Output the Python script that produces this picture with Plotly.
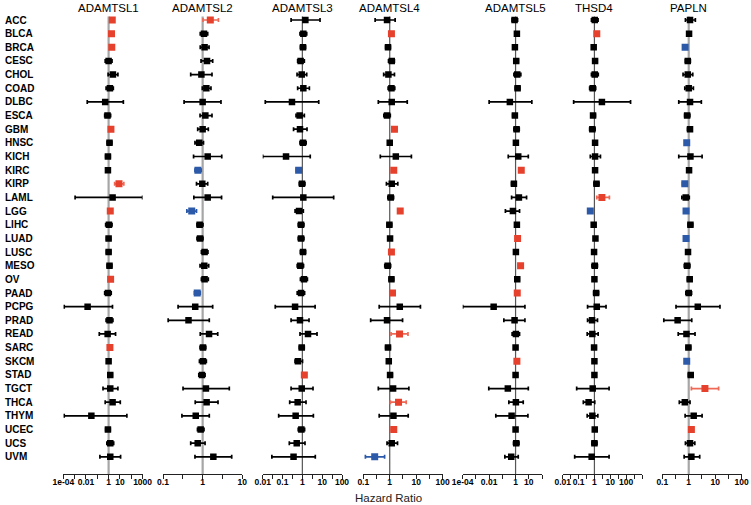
import plotly.graph_objects as go
import numpy as np

cancers = ["ACC", "BLCA", "BRCA", "CESC", "CHOL", "COAD", "DLBC", "ESCA", "GBM", "HNSC",
           "KICH", "KIRC", "KIRP", "LAML", "LGG", "LIHC", "LUAD", "LUSC", "MESO", "OV",
           "PAAD", "PCPG", "PRAD", "READ", "SARC", "SKCM", "STAD", "TGCT", "THCA", "THYM",
           "UCEC", "UCS", "UVM"]

genes = ["ADAMTSL1", "ADAMTSL2", "ADAMTSL3", "ADAMTSL4", "ADAMTSL5", "THSD4", "PAPLN"]

adamtsl1_hr = [2.1, 1.8, 1.9, 1.0, 2.4, 1.3, 0.5, 0.8, 1.6, 1.2, 0.87, 0.87, 8.2, 2.25, 1.4, 1.07, 1.0,
               1.0, 1.2, 1.5, 0.87, 0.014, 1.2, 0.82, 1.3, 1.0, 1.4, 1.4, 2.25, 0.03, 0.87, 1.4, 1.4]
adamtsl1_lo = [1.5, 1.3, 1.4, 0.5, 0.9, 0.6, 0.013, 0.45, 1.2, 0.75, 0.55, 0.6, 3.4, 0.0011, 1.1, 0.55, 0.65,
               0.65, 0.75, 1.15, 0.45, 0.00012, 0.6, 0.15, 1.05, 0.7, 0.9, 0.32, 0.5, 0.00012, 0.55, 0.7, 0.17]
adamtsl1_hi = [2.9, 2.5, 2.6, 2.0, 6.6, 2.6, 20, 1.5, 2.2, 1.9, 1.4, 1.3, 22, 1000, 1.8, 2.0, 1.5,
               1.5, 1.9, 2.0, 1.7, 2.2, 2.4, 4.1, 1.7, 1.4, 2.1, 6.6, 10.7, 41, 1.4, 2.8, 11.4]

adamtsl2_hr = [1.56, 1.08, 1.12, 1.29, 0.93, 1.24, 1.0, 1.17, 1.0, 0.82, 1.34, 0.76, 0.98, 1.34, 0.53, 0.84, 0.86,
               1.12, 1.1, 1.12, 0.73, 0.65, 0.44, 1.45, 1.02, 1.02, 0.96, 1.21, 1.26, 0.67, 0.89, 0.75, 1.86]
adamtsl2_lo = [1.02, 0.87, 0.87, 0.91, 0.5, 0.98, 0.34, 0.86, 0.75, 0.64, 0.59, 0.64, 0.7, 0.6, 0.4, 0.72, 0.72,
               0.93, 0.86, 0.93, 0.62, 0.24, 0.135, 0.87, 0.86, 0.83, 0.8, 0.32, 0.65, 0.3, 0.74, 0.5, 0.64]
adamtsl2_hi = [2.5, 1.34, 1.45, 1.79, 1.72, 1.62, 2.9, 1.72, 1.39, 1.05, 3.03, 0.92, 1.34, 3.0, 0.7, 1.02, 1.02,
               1.36, 1.42, 1.39, 0.87, 1.79, 1.47, 2.4, 1.2, 1.24, 1.15, 4.7, 2.44, 1.47, 1.08, 1.15, 5.4]

adamtsl3_hr = [1.42, 1.12, 1.08, 0.82, 0.93, 1.12, 0.3, 0.73, 0.76, 1.08, 0.15, 0.65, 0.96, 1.12, 0.68, 0.86, 0.86,
               1.08, 0.79, 1.21, 0.86, 0.43, 0.76, 1.93, 0.93, 0.6, 1.26, 0.93, 0.58, 0.46, 0.89, 0.52, 0.36]
adamtsl3_lo = [0.27, 0.76, 0.8, 0.58, 0.54, 0.58, 0.0135, 0.48, 0.36, 0.76, 0.01, 0.5, 0.7, 0.032, 0.43, 0.62, 0.62,
               0.8, 0.55, 0.8, 0.55, 0.043, 0.27, 0.76, 0.7, 0.43, 1.02, 0.27, 0.23, 0.064, 0.62, 0.22, 0.029]
adamtsl3_hi = [7.8, 1.66, 1.45, 1.26, 1.66, 2.26, 6.7, 1.26, 1.72, 1.55, 2.5, 0.85, 1.35, 38, 1.12, 1.2, 1.2,
               1.45, 1.15, 1.8, 1.3, 4.4, 2.17, 5.5, 1.25, 1.02, 1.55, 3.45, 1.53, 3.6, 1.3, 1.36, 4.5]

adamtsl4_hr = [0.79, 1.16, 0.86, 1.19, 0.89, 1.16, 1.19, 0.79, 1.51, 1.0, 1.7, 1.42, 1.19, 1.09, 2.49, 0.97, 1.03,
               1.16, 0.84, 1.16, 1.27, 2.4, 0.79, 2.35, 0.86, 0.92, 1.03, 1.34, 2.15, 1.38, 1.42, 1.19, 0.27]
adamtsl4_lo = [0.28, 1.02, 0.7, 0.9, 0.59, 0.87, 0.37, 0.6, 1.2, 0.85, 0.44, 1.2, 0.75, 0.85, 2.1, 0.8, 0.88,
               1.01, 0.65, 0.95, 1.05, 0.4, 0.19, 1.12, 0.7, 0.8, 0.85, 0.37, 1.06, 0.4, 1.15, 0.79, 0.12]
adamtsl4_hi = [1.6, 1.32, 1.06, 1.5, 1.51, 1.55, 4.6, 1.05, 1.9, 1.18, 6.6, 1.68, 2.02, 1.4, 2.95, 1.18, 1.2,
               1.33, 1.08, 1.4, 1.55, 14.5, 3.06, 4.9, 1.05, 1.06, 1.25, 5.3, 4.2, 5.0, 1.75, 1.97, 0.64]

adamtsl5_hr = [0.84, 1.26, 0.89, 1.12, 1.34, 1.42, 0.37, 0.89, 1.19, 1.06, 1.59, 2.7, 0.75, 1.79, 0.63, 1.26, 1.42,
               1.06, 2.4, 1.34, 1.34, 0.022, 0.84, 1.06, 1.0, 1.26, 1.0, 0.26, 1.06, 0.5, 1.0, 1.12, 0.47]
adamtsl5_lo = [0.55, 0.9, 0.65, 0.8, 0.75, 0.95, 0.01, 0.6, 0.75, 0.8, 0.28, 2.0, 0.5, 0.5, 0.17, 0.9, 1.1,
               0.8, 1.7, 0.95, 1.05, 0.0001, 0.13, 0.55, 0.75, 1.05, 0.75, 0.0094, 0.31, 0.032, 0.75, 0.7, 0.155]
adamtsl5_hi = [1.42, 1.75, 1.2, 1.6, 2.5, 2.1, 17, 1.3, 1.9, 1.4, 9.2, 3.6, 1.1, 6.8, 2.0, 1.75, 1.85,
               1.4, 3.3, 1.9, 1.75, 5.1, 5.1, 2.0, 1.35, 1.55, 1.35, 9.2, 3.8, 8.6, 1.35, 1.8, 1.59]

thsd4_hr = [1.05, 1.41, 0.9, 1.1, 1.05, 0.78, 2.97, 0.82, 0.74, 1.1, 1.1, 1.1, 1.35, 2.97, 0.55, 0.9, 1.16,
            0.95, 1.05, 1.0, 1.28, 1.41, 0.71, 0.74, 0.95, 1.0, 1.0, 0.78, 0.43, 0.74, 1.05, 1.0, 0.67]
thsd4_lo = [0.65, 1.15, 0.7, 0.8, 0.65, 0.5, 0.049, 0.6, 0.5, 0.85, 0.55, 0.9, 0.95, 1.41, 0.42, 0.7, 0.95,
            0.78, 0.7, 0.82, 0.9, 0.37, 0.37, 0.35, 0.7, 0.85, 0.8, 0.076, 0.2, 0.35, 0.8, 0.7, 0.057]
thsd4_hi = [1.7, 1.75, 1.15, 1.5, 1.75, 1.2, 190, 1.15, 1.1, 1.4, 2.4, 1.35, 1.9, 8.8, 0.72, 1.15, 1.4,
            1.15, 1.55, 1.22, 1.8, 5.4, 1.56, 1.72, 1.3, 1.18, 1.25, 8.4, 1.05, 1.64, 1.38, 1.45, 8.4]

papln_hr = [1.12, 1.03, 0.73, 0.92, 0.92, 1.0, 1.12, 0.87, 1.12, 0.84, 1.16, 1.03, 0.71, 0.77, 0.79, 1.16, 0.79,
            0.94, 0.87, 1.09, 1.0, 2.2, 0.38, 0.82, 0.97, 0.84, 1.19, 4.1, 0.71, 1.54, 1.26, 1.12, 1.26]
papln_lo = [0.75, 0.88, 0.62, 0.75, 0.61, 0.71, 0.42, 0.7, 0.9, 0.72, 0.42, 0.88, 0.58, 0.55, 0.68, 0.95, 0.68,
            0.8, 0.68, 0.9, 0.78, 0.33, 0.114, 0.4, 0.8, 0.72, 0.98, 1.26, 0.44, 0.73, 1.05, 0.75, 0.67]
papln_hi = [1.78, 1.2, 0.86, 1.15, 1.42, 1.5, 3.0, 1.1, 1.35, 0.97, 3.2, 1.2, 0.87, 1.05, 0.92, 1.4, 0.93,
            1.1, 1.1, 1.3, 1.28, 15.2, 1.3, 1.73, 1.18, 0.97, 1.45, 13.5, 1.12, 3.2, 1.5, 1.7, 2.6]

# axis ranges (HR) and tick values / labels per panel
axis_ranges = [(1e-4, 1000), (0.1, 10), (0.01, 100), (0.1, 100), (1e-4, 100), (0.01, 1000), (0.1, 100)]
tick_vals = [
    [1e-4, 1e-3, 1e-2, 0.1, 1, 10, 100, 1000],
    [0.1, 0.316, 1, 3.16, 10],
    [0.01, 0.0316, 0.1, 0.316, 1, 3.16, 10, 31.6, 100],
    [0.1, 0.316, 1, 3.16, 10, 31.6, 100],
    [1e-4, 1e-3, 1e-2, 0.1, 1, 10, 100],
    [0.01, 0.0316, 0.1, 0.316, 1, 3.16, 10, 31.6, 100, 316, 1000],
    [0.1, 0.316, 1, 3.16, 10, 31.6, 100],
]
tick_text = [
    ["1e-04", "", "0.01", "", "1", "10", "", "1000"],
    ["0.1", "", "1", "", "10"],
    ["0.01", "", "0.1", "", "1", "", "10", "", "100"],
    ["0.1", "", "1", "", "10", "", "100"],
    ["1e-04", "", "0.01", "", "1", "10", ""],
    ["0.01", "", "0.1", "", "1", "", "10", "", "100", "", ""],
    ["0.1", "", "1", "", "10", "", "100"],
]

data = [
    (adamtsl1_hr, adamtsl1_lo, adamtsl1_hi),
    (adamtsl2_hr, adamtsl2_lo, adamtsl2_hi),
    (adamtsl3_hr, adamtsl3_lo, adamtsl3_hi),
    (adamtsl4_hr, adamtsl4_lo, adamtsl4_hi),
    (adamtsl5_hr, adamtsl5_lo, adamtsl5_hi),
    (thsd4_hr, thsd4_lo, thsd4_hi),
    (papln_hr, papln_lo, papln_hi),
]

W, H = 751, 505
RED = "#E5412D"
RED_CI = "#EE6A57"
BLUE = "#2C5AA8"
BLACK = "#000000"
FONT = "Liberation Sans, Arial, Helvetica, sans-serif"

panel_left = [63.3, 163.0, 262.7, 363.3, 462.7, 562.7, 662.3]
panel_w = 79.3
ref_styles = [("#A6A6A6", 2.2), ("#A6A6A6", 2.2), ("#555555", 1.2), ("#555555", 1.2),
              ("#555555", 1.2), ("#555555", 1.2), ("#A6A6A6", 2.2)]

row_top_px, row_step = 20.0, 13.65
axis_px, top_px = 474.3, 13.0
y_bottom = (axis_px - row_top_px) / row_step
y_top = (top_px - row_top_px) / row_step
ypos = list(range(len(cancers)))

fig = go.Figure()
layout = dict(
    template="none",
    width=W, height=H, margin=dict(l=0, r=0, t=0, b=0, pad=0, autoexpand=False),
    paper_bgcolor="white", plot_bgcolor="white", showlegend=False,
    font=dict(family=FONT, color="black"),
    yaxis=dict(domain=[(H - axis_px) / H, (H - top_px) / H], range=[y_bottom, y_top],
               visible=False, showgrid=False, zeroline=False, automargin=False),
)
annotations = []

for k, gene in enumerate(genes):
    xa = "x" if k == 0 else f"x{k+1}"
    hr, lo, hi = [np.array(a, dtype=float) for a in data[k]]
    col, lw = ref_styles[k]
    # reference line at HR = 1
    fig.add_trace(go.Scatter(x=[1, 1], y=[y_top + 0.25, y_bottom], mode="lines",
                             line=dict(color=col, width=lw), xaxis=xa, yaxis="y",
                             hoverinfo="skip"))
    groups = [
        (~((lo > 1) | (hi < 1)), BLACK, BLACK, 6.5),
        (lo > 1, RED, RED_CI, 7),
        (hi < 1, BLUE, BLUE, 7),
    ]
    for mask, mcol, ecol, msz in groups:
        if not mask.any():
            continue
        yy = [ypos[i] for i in range(len(ypos)) if mask[i]]
        fig.add_trace(go.Scatter(
            x=hr[mask], y=yy, mode="markers", xaxis=xa, yaxis="y",
            marker=dict(symbol="square", size=msz, color=mcol, line=dict(width=0)),
            error_x=dict(type="data", symmetric=False,
                         array=hi[mask] - hr[mask], arrayminus=hr[mask] - lo[mask],
                         color=ecol, thickness=1.7, width=2),
            hoverinfo="skip"))
    x0 = panel_left[k] / W
    x1 = (panel_left[k] + panel_w) / W
    rng = axis_ranges[k]
    layout["xaxis" if k == 0 else f"xaxis{k+1}"] = dict(
        domain=[x0, x1], anchor="y", type="log", automargin=False,
        range=[float(np.log10(rng[0])), float(np.log10(rng[1]))],
        showline=True, linecolor="#222222", linewidth=1, mirror=False,
        ticks="outside", ticklen=4, tickwidth=1, tickcolor="#222222",
        tickvals=tick_vals[k], ticktext=tick_text[k], tickangle=0,
        ticklabelstandoff=-5,
        tickfont=dict(family=FONT, size=8.5, color="black", weight="bold"),
        showgrid=False, zeroline=False, fixedrange=True,
    )
    annotations.append(dict(text=gene, xref=xa, x=0, yref="paper", y=(H - 7.5) / H,
                            xanchor="center", yanchor="middle", showarrow=False,
                            font=dict(family=FONT, size=11.5, color="black")))

for i, c in enumerate(cancers):
    annotations.append(dict(text=c, xref="paper", x=3 / W, yref="y", y=ypos[i],
                            xanchor="left", yanchor="middle", showarrow=False,
                            font=dict(family=FONT, size=10, color="black", weight="bold")))

annotations.append(dict(text="Hazard Ratio", xref="paper", x=388 / W, yref="paper",
                        y=(H - 497.5) / H, xanchor="center", yanchor="middle", showarrow=False,
                        font=dict(family=FONT, size=11.5, color="#222222")))

layout["annotations"] = annotations
fig.update_layout(**layout)
fig.write_html("out.html", config={"displayModeBar": False},
               post_script="document.body.style.margin='0';document.body.style.overflow='hidden';")
